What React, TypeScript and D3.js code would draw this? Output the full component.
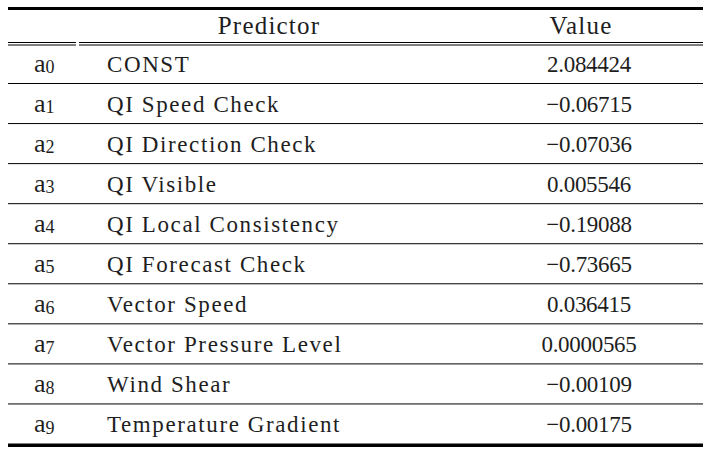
import React from 'react';
import * as d3 from 'd3';

// table content
const coefIndex = ['0', '1', '2', '3', '4', '5', '6', '7', '8', '9'];
const predictors = [
  'CONST',
  'QI Speed Check',
  'QI Direction Check',
  'QI Visible',
  'QI Local Consistency',
  'QI Forecast Check',
  'Vector Speed',
  'Vector Pressure Level',
  'Wind Shear',
  'Temperature Gradient',
];
const values = [
  '2.084424',
  '\u22120.06715',
  '\u22120.07036',
  '0.005546',
  '\u22120.19088',
  '\u22120.73665',
  '0.036415',
  '0.0000565',
  '\u22120.00109',
  '\u22120.00175',
];
const headers = ['Predictor', 'Value'];

const W = 714;
const H = 456;
const left = 8;
const right = 703;
const font = "'Liberation Serif', 'DejaVu Serif', serif";
const ink = '#1e1e1e';

const App = () => {
  // row i sits between line(i) and line(i + 1)
  const line = d3.scaleLinear().domain([1, 10]).range([83.5, 444]);
  const baseline = (i: number) => line(i + 1) - 11.8;

  const xIdx = 34;
  const xName = 107;
  const xVal = 589;

  const txt = (size: number, spacing: number) => ({
    fontFamily: font,
    fontSize: size,
    letterSpacing: spacing,
    fill: ink,
  });

  return (
    <div style={{ position: 'absolute', left: 0, top: 0 }}>
      <svg width={W} height={H} style={{ display: 'block', background: '#fff' }}>
        {/* top rule */}
        <rect x={left} y={7} width={right - left} height={3} fill="#000" />
        {/* header double rule, broken between the first two columns */}
        {[42, 44.5].map((y) => (
          <g key={y}>
            <rect x={left} y={y} width={76 - left} height={1} fill="#000" />
            <rect x={79} y={y} width={right - 79} height={1} fill="#000" />
          </g>
        ))}
        {/* row rules */}
        {d3.range(1, 10).map((i) => (
          <rect key={i} x={left} y={line(i) - 0.5} width={right - left} height={1} fill="#000" />
        ))}
        {/* bottom rule */}
        <rect x={left} y={443.5} width={right - left} height={3.5} fill="#000" />

        {/* header */}
        <text x={269} y={34.3} textAnchor="middle" style={txt(25, 1.2)}>{headers[0]}</text>
        <text x={581} y={34.3} textAnchor="middle" style={txt(25, 1.2)}>{headers[1]}</text>

        {predictors.map((p, i) => (
          <g key={p}>
            <text x={xIdx} y={baseline(i)} style={txt(26, 0)}>
              a<tspan dy={1.5} style={{ fontSize: 18 }}>{coefIndex[i]}</tspan>
            </text>
            <text x={xName} y={baseline(i)} style={txt(23, 1.6)}>{p}</text>
            <text x={xVal} y={baseline(i)} textAnchor="middle" style={txt(23, -0.3)}>{values[i]}</text>
          </g>
        ))}
      </svg>
    </div>
  );
};

export default App;
